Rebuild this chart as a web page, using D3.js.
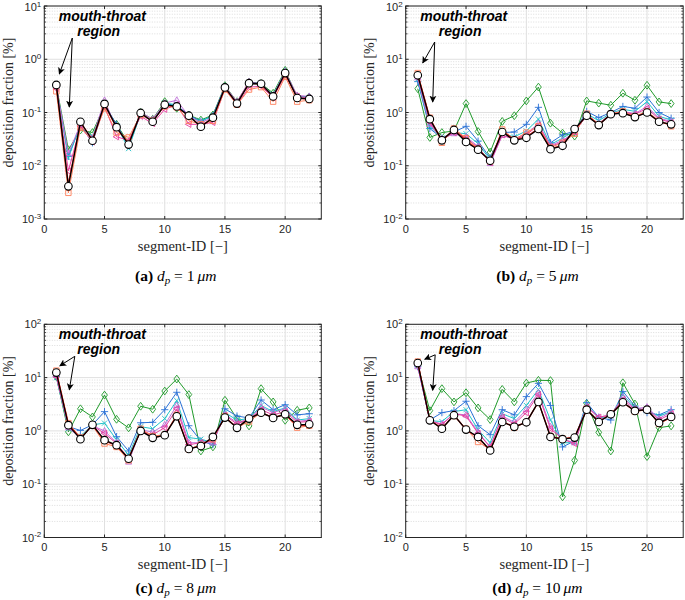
<!DOCTYPE html>
<html><head><meta charset="utf-8">
<script src="https://cdn.jsdelivr.net/npm/d3@7"></script>
<style>body{margin:0;background:#fff}svg{display:block}</style>
</head><body>
<svg id="c" width="685" height="600"></svg>
<script>
// ---------- data ----------
const segments = [1,2,3,4,5,6,7,8,9,10,11,12,13,14,15,16,17,18,19,20,21,22];
const xTicks = [0,5,10,15,20];
const captionLetters = ["(a)","(b)","(c)","(d)"];
const particleDiameters = [1,5,8,10];
const yDomainA = [1e-3, 10];
const yDomainB = [1e-2, 100];

// panel (a) d_p = 1 um
const a_green  = [0.32,0.020,0.047,0.042,0.135,0.060,0.027,0.100,0.075,0.160,0.120,0.090,0.072,0.090,0.32,0.160,0.37,0.35,0.23,0.62,0.20,0.195];
const a_blue   = [0.30,0.015,0.058,0.027,0.140,0.060,0.024,0.092,0.068,0.145,0.135,0.090,0.068,0.088,0.31,0.150,0.36,0.35,0.21,0.60,0.19,0.200];
const a_cyan   = [0.30,0.014,0.060,0.035,0.150,0.055,0.021,0.095,0.070,0.150,0.140,0.080,0.070,0.085,0.30,0.155,0.34,0.33,0.22,0.56,0.20,0.190];
const a_violet = [0.30,0.017,0.060,0.033,0.170,0.050,0.027,0.100,0.075,0.150,0.170,0.085,0.065,0.080,0.31,0.160,0.38,0.34,0.21,0.58,0.21,0.200];
const a_magenta= [0.28,0.008,0.055,0.028,0.130,0.035,0.030,0.085,0.062,0.115,0.140,0.060,0.060,0.065,0.28,0.140,0.30,0.31,0.19,0.50,0.20,0.185];
const a_orange = [0.25,0.0031,0.052,0.030,0.120,0.042,0.034,0.090,0.070,0.130,0.125,0.070,0.060,0.070,0.27,0.140,0.27,0.30,0.16,0.47,0.16,0.170];
const a_red    = [0.32,0.0045,0.065,0.031,0.140,0.052,0.026,0.097,0.068,0.138,0.128,0.085,0.056,0.079,0.29,0.150,0.35,0.34,0.20,0.54,0.185,0.178];
const a_black  = [0.33,0.0041,0.067,0.0295,0.145,0.053,0.025,0.098,0.067,0.140,0.130,0.087,0.054,0.080,0.296,0.147,0.356,0.347,0.20,0.55,0.187,0.180];

// panel (b) d_p = 5 um
const b_green  = [2.8,0.34,0.42,0.45,1.47,0.44,0.18,0.68,0.87,1.65,3.0,0.63,0.41,0.36,1.65,1.5,1.37,2.3,1.7,3.25,1.58,1.47];
const b_blue   = [3.8,0.50,0.33,0.43,0.55,0.29,0.14,0.42,0.43,0.60,1.25,0.27,0.38,0.45,1.05,0.80,1.00,1.30,1.20,1.95,1.00,0.78];
const b_cyan   = [4.2,0.55,0.33,0.42,0.40,0.26,0.13,0.40,0.35,0.45,0.75,0.25,0.33,0.45,0.95,0.70,0.97,1.15,1.05,1.60,0.85,0.72];
const b_violet = [4.5,0.60,0.32,0.40,0.35,0.23,0.11,0.37,0.32,0.40,0.62,0.24,0.30,0.42,0.90,0.62,0.95,1.05,0.95,1.30,0.78,0.68];
const b_magenta= [4.6,0.65,0.31,0.42,0.33,0.22,0.115,0.38,0.31,0.38,0.58,0.23,0.28,0.43,0.88,0.60,0.94,1.02,0.92,1.20,0.75,0.65];
const b_orange = [5.5,0.80,0.27,0.50,0.33,0.21,0.12,0.48,0.31,0.42,0.55,0.22,0.27,0.40,0.95,0.60,0.95,1.05,0.85,1.05,0.70,0.55];
const b_red    = [5.2,0.78,0.30,0.48,0.30,0.20,0.125,0.45,0.31,0.35,0.50,0.21,0.24,0.47,0.90,0.58,0.93,0.98,0.83,1.00,0.67,0.60];
const b_black  = [5.0,0.75,0.30,0.47,0.28,0.20,0.124,0.43,0.30,0.335,0.49,0.205,0.237,0.49,0.87,0.58,0.93,0.97,0.82,1.00,0.67,0.60];

// panel (c) d_p = 8 um
const c_green  = [10.5,0.96,2.6,1.83,4.7,1.65,1.14,2.9,2.55,5.6,9.4,4.8,0.42,0.50,3.76,1.7,1.24,6.2,3.5,1.58,2.44,2.7];
const c_blue   = [10.5,1.20,1.02,1.30,2.3,0.78,0.42,1.42,1.45,2.5,5.3,1.25,0.65,0.55,2.6,1.9,1.75,3.8,2.5,3.1,2.0,2.1];
const c_cyan   = [10.0,1.10,0.80,1.30,1.4,0.68,0.35,1.20,1.10,1.7,3.7,0.75,0.70,0.60,2.2,1.6,1.70,3.0,2.3,2.7,1.6,1.7];
const c_violet = [11.0,1.15,0.75,1.25,1.0,0.60,0.26,1.05,0.95,1.3,3.0,0.60,0.60,0.60,2.0,1.45,1.65,2.8,2.2,2.6,1.5,1.6];
const c_magenta= [10.5,1.20,0.72,1.25,0.9,0.58,0.30,1.00,0.85,1.15,2.6,0.55,0.60,0.65,1.95,1.35,1.65,2.5,2.0,2.3,1.45,1.5];
const c_orange = [13.5,1.40,0.75,1.25,0.58,0.50,0.28,1.10,0.80,0.85,2.0,0.45,0.55,0.70,1.9,1.15,1.5,2.2,1.8,2.0,1.15,1.25];
const c_red    = [12.8,1.35,0.72,1.30,0.65,0.53,0.31,1.02,0.75,0.82,1.95,0.46,0.53,0.76,1.8,1.15,1.7,2.2,1.78,2.05,1.25,1.3];
const c_black  = [12.4,1.28,0.70,1.30,0.67,0.54,0.30,1.00,0.74,0.83,1.88,0.46,0.52,0.77,1.78,1.14,1.7,2.2,1.75,2.05,1.30,1.33];

// panel (d) d_p = 10 um
const d_green  = [17,2.4,6.2,3.5,5.2,2.7,1.63,6.0,3.5,7.9,8.9,8.8,0.058,0.28,3.3,0.94,0.42,8.0,3.2,0.33,1.15,1.24];
const d_blue   = [16,1.6,2.2,2.4,3.6,1.25,0.85,2.5,2.0,4.4,7.8,3.0,0.50,0.65,3.4,1.8,1.6,5.5,2.9,2.2,2.0,2.5];
const d_cyan   = [17,1.55,1.5,2.3,2.5,1.05,0.60,2.1,1.7,3.0,6.0,1.6,0.60,0.60,3.1,1.7,1.9,4.8,2.7,2.4,1.9,2.3];
const d_violet = [16,1.55,1.35,2.1,2.0,0.95,0.50,1.9,1.45,2.5,5.2,1.2,0.70,0.60,2.9,1.8,2.0,4.3,2.6,2.8,1.7,2.3];
const d_magenta= [17,1.55,1.3,2.1,1.9,0.90,0.50,1.8,1.35,2.2,4.8,1.1,0.70,0.58,2.8,1.8,2.0,3.9,2.5,2.6,1.6,2.1];
const d_orange = [20,1.6,1.15,1.9,1.1,0.62,0.45,1.5,1.15,1.45,3.5,0.80,0.72,0.75,2.6,1.5,2.1,3.5,2.3,2.5,1.35,1.8];
const d_red    = [19,1.6,1.1,2.0,1.05,0.75,0.43,1.5,1.2,1.45,3.5,0.78,0.70,0.77,2.5,1.5,2.05,3.4,2.35,2.5,1.4,1.8];
const d_black  = [18.8,1.58,1.1,1.97,1.06,0.77,0.43,1.47,1.19,1.45,3.5,0.77,0.70,0.75,2.5,1.47,2.05,3.45,2.37,2.5,1.41,1.83];

// ---------- styles ----------
const seriesStyle = [
  {color:"#1f9a2a", marker:"diamond", width:1},
  {color:"#2b72d6", marker:"plus", width:1},
  {color:"#20c2c8", marker:"x", width:1},
  {color:"#c070d8", marker:"up", width:1},
  {color:"#e8409e", marker:"left", width:1},
  {color:"#ff7f5a", marker:"square", width:1},
  {color:"#d81e1e", marker:"none", width:1.3},
  {color:"#000000", marker:"circle", width:1.3}
];

const panels = [
  {left:44.3, top:6, w:277, h:213, yDom:yDomainA, capOff:62, series:[a_green,a_blue,a_cyan,a_violet,a_magenta,a_orange,a_red,a_black],
   ann:{start:[28,32], e1:[15,68], e2:[25,101]}},
  {left:405.7, top:6, w:277.5, h:213, yDom:yDomainB, capOff:62, series:[b_green,b_blue,b_cyan,b_violet,b_magenta,b_orange,b_red,b_black],
   ann:{start:[29,36], e1:[17,57], e2:[27,96]}},
  {left:44.3, top:324.3, w:277, h:213.2, yDom:yDomainB, capOff:55.5, series:[c_green,c_blue,c_cyan,c_violet,c_magenta,c_orange,c_red,c_black],
   ann:{start:[30.5,32], e1:[15.5,41.5], e2:[25,65.5]}},
  {left:405.7, top:324.3, w:277.5, h:213.2, yDom:yDomainB, capOff:55.5, series:[d_green,d_blue,d_cyan,d_violet,d_magenta,d_orange,d_red,d_black],
   ann:{start:[29.5,30.5], e1:[19,35], e2:[27,66]}}
];

const svg = d3.select("#c");
const defs = svg.append("defs");
defs.append("marker").attr("id","ah").attr("viewBox","0 0 10 10").attr("refX",9).attr("refY",5)
  .attr("markerWidth",7).attr("markerHeight",7).attr("markerUnits","userSpaceOnUse").attr("orient","auto")
  .append("path").attr("d","M0,0 L10,5 L0,10 L2.5,5 Z").attr("fill","#000");

function markerPath(type, r){
  switch(type){
    case "diamond": return `M0,${-r*1.15}L${r*0.85},0L0,${r*1.15}L${-r*0.85},0Z`;
    case "plus": return `M${-r},0H${r}M0,${-r}V${r}`;
    case "x": return `M${-r*0.75},${-r*0.75}L${r*0.75},${r*0.75}M${-r*0.75},${r*0.75}L${r*0.75},${-r*0.75}`;
    case "up": return `M0,${-r}L${r*0.9},${r*0.6}L${-r*0.9},${r*0.6}Z`;
    case "left": return `M${-r},0L${r*0.6},${-r*0.9}L${r*0.6},${r*0.9}Z`;
    case "square": return `M${-r*0.8},${-r*0.8}H${r*0.8}V${r*0.8}H${-r*0.8}Z`;
    case "circle": return d3.symbol(d3.symbolCircle, Math.PI*r*r)();
  }
  return "";
}

panels.forEach((p,pi)=>{
  const g = svg.append("g");
  const x = d3.scaleLinear().domain([0,23]).range([p.left, p.left+p.w]);
  const y = d3.scaleLog().domain(p.yDom).range([p.top+p.h, p.top]);
  const e0 = Math.round(Math.log10(p.yDom[0])), e1 = Math.round(Math.log10(p.yDom[1]));
  const majors = d3.range(e0, e1+1).map(e=>Math.pow(10,e));
  const minors = [];
  for(let e=e0;e<e1;e++) for(let k=2;k<=9;k++) minors.push(k*Math.pow(10,e));

  // grid
  g.selectAll(".mg").data(minors).join("line")
    .attr("x1",p.left).attr("x2",p.left+p.w).attr("y1",d=>y(d)).attr("y2",d=>y(d))
    .attr("stroke","#d4d4d4").attr("stroke-width",0.8).attr("stroke-dasharray","1,1.5");
  g.selectAll(".Mg").data(majors).join("line")
    .attr("x1",p.left).attr("x2",p.left+p.w).attr("y1",d=>y(d)).attr("y2",d=>y(d))
    .attr("stroke","#e0e0e0").attr("stroke-width",1);
  g.selectAll(".vg").data(xTicks).join("line")
    .attr("x1",d=>x(d)).attr("x2",d=>x(d)).attr("y1",p.top).attr("y2",p.top+p.h)
    .attr("stroke","#e0e0e0").attr("stroke-width",1);

  // series
  const clipId = "clip"+pi;
  defs.append("clipPath").attr("id",clipId).append("rect")
    .attr("x",p.left).attr("y",p.top).attr("width",p.w).attr("height",p.h);
  const line = d3.line().x((d,i)=>x(segments[i])).y(d=>y(d));
  p.series.forEach((vals,si)=>{
    const st = seriesStyle[si];
    const sg = g.append("g").attr("clip-path",`url(#${clipId})`);
    sg.append("path").attr("d",line(vals)).attr("fill","none")
      .attr("stroke",st.color).attr("stroke-width",st.width).attr("stroke-linejoin","round");
    if(st.marker!=="none"){
      const r = st.marker==="circle"?3.8:(st.marker==="plus"?3.6:3.4);
      sg.selectAll(".m").data(vals).join("path")
        .attr("transform",(d,i)=>`translate(${x(segments[i])},${y(d)})`)
        .attr("d",markerPath(st.marker,r))
        .attr("fill",st.marker==="circle"?"#fff":"none")
        .attr("stroke",st.color).attr("stroke-width",st.marker==="circle"?1.1:0.9);
    }
  });

  // frame & ticks
  const ax = "#262626";
  g.append("rect").attr("x",p.left).attr("y",p.top).attr("width",p.w).attr("height",p.h)
    .attr("fill","none").attr("stroke",ax).attr("stroke-width",1);
  xTicks.forEach(t=>{
    g.append("line").attr("x1",x(t)).attr("x2",x(t)).attr("y1",p.top+p.h).attr("y2",p.top+p.h-3).attr("stroke",ax);
    g.append("line").attr("x1",x(t)).attr("x2",x(t)).attr("y1",p.top).attr("y2",p.top+3).attr("stroke",ax);
    g.append("text").attr("x",x(t)).attr("y",p.top+p.h+13.5).attr("text-anchor","middle")
      .attr("font-family","'Liberation Sans',Arial,sans-serif").attr("font-size",11).attr("fill","#262626").text(t);
  });
  majors.forEach(t=>{
    g.append("line").attr("x1",p.left).attr("x2",p.left+3).attr("y1",y(t)).attr("y2",y(t)).attr("stroke",ax);
    g.append("line").attr("x1",p.left+p.w).attr("x2",p.left+p.w-3).attr("y1",y(t)).attr("y2",y(t)).attr("stroke",ax);
    const e = Math.round(Math.log10(t));
    const tx = g.append("text").attr("x",p.left-3).attr("y",Math.max(y(t)+4, 11)).attr("text-anchor","end")
      .attr("font-family","'Liberation Sans',Arial,sans-serif").attr("font-size",11).attr("fill","#262626");
    tx.append("tspan").text("10");
    tx.append("tspan").attr("dy",-4.5).attr("font-size",8).text(String(e));
  });
  minors.forEach(t=>{
    g.append("line").attr("x1",p.left).attr("x2",p.left+1.8).attr("y1",y(t)).attr("y2",y(t)).attr("stroke",ax).attr("stroke-width",0.8);
    g.append("line").attr("x1",p.left+p.w).attr("x2",p.left+p.w-1.8).attr("y1",y(t)).attr("y2",y(t)).attr("stroke",ax).attr("stroke-width",0.8);
  });

  // axis labels
  const serif = "'Liberation Serif','Times New Roman',serif";
  g.append("text").attr("x",p.left+p.w/2).attr("y",p.top+p.h+31.5).attr("text-anchor","middle")
    .attr("font-family",serif).attr("font-size",14.5).attr("fill","#262626").text("segment-ID [\u2212]");
  g.append("text").attr("transform",`translate(${p.left-31.5},${p.top+p.h/2-10}) rotate(-90)`)
    .attr("text-anchor","middle").attr("font-family",serif).attr("font-size",14).attr("fill","#262626")
    .text("deposition fraction [%]");

  // caption
  const cap = g.append("text").attr("x",p.left+p.w/2-7).attr("y",p.top+p.h+p.capOff)
    .attr("text-anchor","middle").attr("font-family",serif).attr("font-size",15.5).attr("fill","#000");
  cap.append("tspan").attr("font-weight","bold").text(captionLetters[pi]+" ");
  cap.append("tspan").attr("font-style","italic").text("d");
  cap.append("tspan").attr("font-style","italic").attr("font-size",11).attr("dy",3).text("p");
  cap.append("tspan").attr("dy",-3).text(" = "+particleDiameters[pi]+"\u2009");
  cap.append("tspan").attr("font-style","italic").text("\u03bcm");

  // annotation
  const sans = "'Liberation Sans',Arial,sans-serif";
  g.append("text").attr("x",p.left+14.5).attr("y",p.top+15).attr("font-family",sans)
    .attr("font-weight","bold").attr("font-style","italic").attr("font-size",14).attr("fill","#000").text("mouth-throat");
  g.append("text").attr("x",p.left+33).attr("y",p.top+29.5).attr("font-family",sans)
    .attr("font-weight","bold").attr("font-style","italic").attr("font-size",14).attr("fill","#000").text("region");
  [p.ann.e1,p.ann.e2].forEach(e=>{
    g.append("line").attr("x1",p.left+p.ann.start[0]).attr("y1",p.top+p.ann.start[1])
      .attr("x2",p.left+e[0]).attr("y2",p.top+e[1]).attr("stroke","#000").attr("stroke-width",1)
      .attr("marker-end","url(#ah)");
  });
});
</script>
</body></html>
